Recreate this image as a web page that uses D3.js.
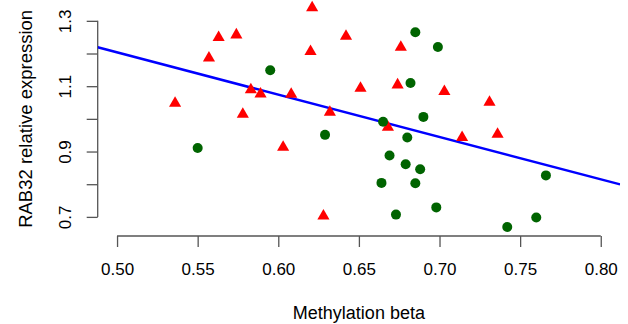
<!DOCTYPE html>
<html>
<head>
<meta charset="utf-8">
<script src="https://cdn.jsdelivr.net/npm/d3@7"></script>
<style>
  body { margin: 0; background: #fff; }
  svg { display: block; font-family: "Liberation Sans", Arial, sans-serif; }
</style>
</head>
<body>
<div class="chart"></div>
<script>
// group A (red triangles)
const triX = [0.536, 0.557, 0.563, 0.574, 0.578, 0.583, 0.589, 0.603, 0.608, 0.620, 0.621,
              0.628, 0.632, 0.642, 0.651, 0.668, 0.674, 0.676, 0.703, 0.714, 0.731, 0.736]
const triY = [1.048, 1.186, 1.249, 1.257, 1.014, 1.089, 1.076, 0.913, 1.075, 1.206, 1.340,
              0.703, 1.020, 1.253, 1.094, 0.974, 1.104, 1.219, 1.084, 0.943, 1.051, 0.953]

// group B (green dots)
const dotX = [0.550, 0.595, 0.685, 0.699, 0.682, 0.665, 0.629, 0.680, 0.690, 0.669,
              0.679, 0.688, 0.664, 0.685, 0.673, 0.698, 0.742, 0.760, 0.766]
const dotY = [0.911, 1.149, 1.265, 1.220, 1.110, 0.991, 0.951, 0.943, 1.006, 0.888,
              0.861, 0.846, 0.804, 0.803, 0.707, 0.729, 0.669, 0.698, 0.827]

// fitted line: y = a + b * x
const fitA = 1.851
const fitB = -1.295

const xTicks = [0.50, 0.55, 0.60, 0.65, 0.70, 0.75, 0.80]
const yTicks = [0.7, 0.8, 0.9, 1.0, 1.1, 1.2, 1.3]
const yLabeled = [0.7, 0.9, 1.1, 1.3]

const fullWidth = 628
const fullHeight = 324
const margin = { top: -2.2, right: 7.9, bottom: 88, left: 97.7 }
const width = fullWidth - margin.left - margin.right
const height = fullHeight - margin.top - margin.bottom
const tick = 11
const axisCol = '#555'

const xScale = d3.scaleLinear().domain([0.488, 0.812]).range([0, width])
const yScale = d3.scaleLinear().domain([0.6415, 1.3705]).range([height, 0])

const svg = d3.select('.chart')
  .append('svg')
    .attr('width', fullWidth)
    .attr('height', fullHeight)
  .append('g')
    .attr('transform', `translate(${margin.left}, ${margin.top})`)

svg.append('defs').append('clipPath').attr('id', 'plot')
  .append('rect').attr('x', 0).attr('y', 0).attr('width', width).attr('height', height)

// x axis
const xAxis = d3.axisBottom(xScale)
  .tickValues(xTicks)
  .tickFormat(d3.format('.2f'))
  .tickSize(tick)
  .tickPadding(16)
const gx = svg.append('g')
  .attr('transform', `translate(0, ${height})`)
  .call(xAxis)
gx.select('.domain').remove()
gx.append('line')
  .attr('x1', xScale(xTicks[0])).attr('x2', xScale(xTicks[xTicks.length - 1]))
  .attr('stroke', axisCol).attr('stroke-width', 1.3)
gx.selectAll('.tick line').attr('stroke', axisCol).attr('stroke-width', 1.3)
gx.selectAll('text').attr('font-size', 17).attr('fill', '#000').attr('font-family', null)

// y axis
const yAxis = d3.axisLeft(yScale)
  .tickValues(yTicks)
  .tickFormat(d => yLabeled.includes(d) ? d3.format('.1f')(d) : '')
  .tickSize(tick)
const gy = svg.append('g').call(yAxis)
gy.select('.domain').remove()
gy.append('line')
  .attr('y1', yScale(yTicks[0])).attr('y2', yScale(yTicks[yTicks.length - 1]))
  .attr('stroke', axisCol).attr('stroke-width', 1.3)
gy.selectAll('.tick line').attr('stroke', axisCol).attr('stroke-width', 1.3)
gy.selectAll('text')
  .attr('font-size', 17).attr('fill', '#000').attr('font-family', null)
  .attr('transform', 'rotate(-90)')
  .attr('x', 0).attr('y', -27).attr('dy', 0)
  .style('text-anchor', 'middle')

// titles
svg.append('text')
  .attr('x', (xScale(0.5) + xScale(0.8)) / 2)
  .attr('y', 319.3 - margin.top)
  .attr('text-anchor', 'middle')
  .attr('font-size', 18)
  .text('Methylation beta')

svg.append('text')
  .attr('transform', `translate(${31.7 - margin.left}, ${(yScale(0.7) + yScale(1.3)) / 2}) rotate(-90)`)
  .attr('text-anchor', 'middle')
  .attr('font-size', 18.5)
  .text('RAB32 relative expression')

// fit line
const plot = svg.append('g').attr('clip-path', 'url(#plot)')
const xs = xScale.domain()
plot.append('line')
  .attr('x1', xScale(xs[0])).attr('y1', yScale(fitA + fitB * xs[0]))
  .attr('x2', xScale(xs[1])).attr('y2', yScale(fitA + fitB * xs[1]))
  .attr('stroke', '#0000ff')
  .attr('stroke-width', 2.5)

// triangles
const tri = d3.symbol().type(d3.symbolTriangle).size(64)
plot.selectAll('.tri')
  .data(triX.map((x, i) => ({ x, y: triY[i] })))
  .enter()
    .append('path')
    .attr('class', 'tri')
    .attr('d', tri)
    .attr('transform', d => `translate(${xScale(d.x)}, ${yScale(d.y)})`)
    .attr('fill', '#ff0000')

// dots
plot.selectAll('.dot')
  .data(dotX.map((x, i) => ({ x, y: dotY[i] })))
  .enter()
    .append('circle')
    .attr('class', 'dot')
    .attr('cx', d => xScale(d.x))
    .attr('cy', d => yScale(d.y))
    .attr('r', 5)
    .attr('fill', '#006400')
</script>
</body>
</html>
